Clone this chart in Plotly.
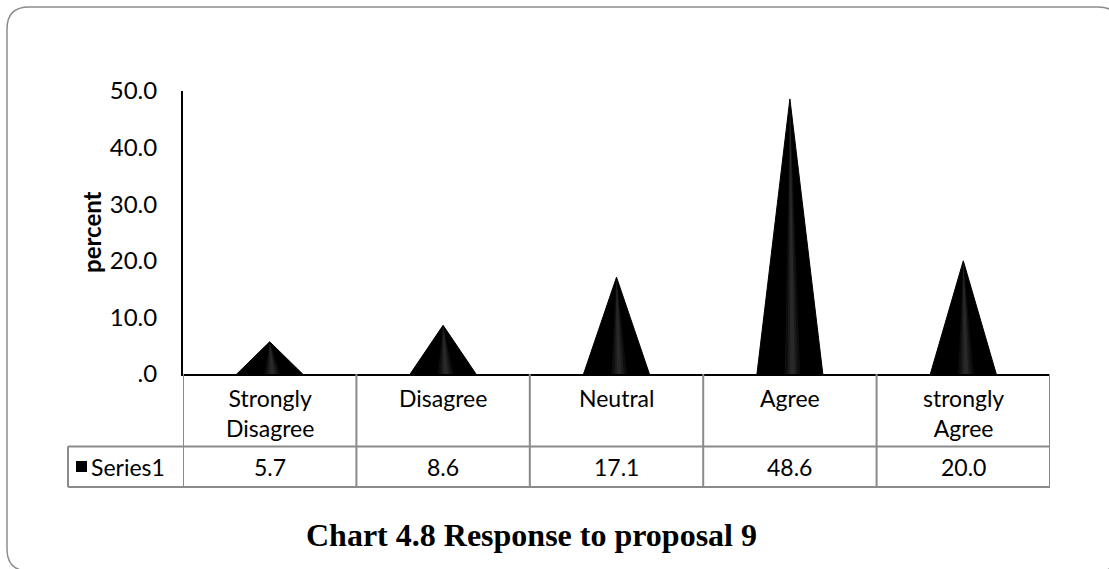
import plotly.graph_objects as go

categories = ["Strongly<br>Disagree", "Disagree", "Neutral", "Agree", "strongly<br>Agree"]
values = [5.7, 8.6, 17.1, 48.6, 20.0]
value_labels = ["5.7", "8.6", "17.1", "48.6", "20.0"]
series_name = "Series1"
y_tickvals = [0, 10, 20, 30, 40, 50]
y_ticktext = [".0", "10.0", "20.0", "30.0", "40.0", "50.0"]
title_text = "Chart 4.8 Response to proposal 9"
y_title = "percent"

W, H = 1109, 569
def px(x): return x / W
def py(y): return 1 - y / H

FONT = "Lato"
GRID = "#8a8a8a"
HW = 0.19  # cone half width in category units

fig = go.Figure()
for i, v in enumerate(values):
    fig.add_trace(go.Scatter(x=[i - HW, i, i + HW, i - HW], y=[0, v, 0, 0], fill="toself",
                             fillcolor="#000000", line=dict(color="#000000", width=1),
                             mode="lines", hoverinfo="skip", showlegend=False))
    # soft highlight stripes for a shaded-cone look
    for half, alpha in ((0.045, 0.12), (0.028, 0.14), (0.014, 0.16)):
        c = i + 0.015
        fig.add_trace(go.Scatter(x=[c - half, i, c + half, c - half], y=[0, v, 0, 0], fill="toself",
                                 fillcolor=f"rgba(110,110,110,{alpha})", line=dict(width=0),
                                 mode="lines", hoverinfo="skip", showlegend=False))

shapes = []
# rounded border
L, T, R, B, r = 7, 7, 1120, 571, 22
pts = [("M", L + r, T), ("L", R - r, T), ("Q", R, T, R, T + r), ("L", R, B - r),
       ("Q", R, B, R - r, B), ("L", L + r, B), ("Q", L, B, L, B - r), ("L", L, T + r),
       ("Q", L, T, L + r, T)]
path = ""
for p in pts:
    cmd = p[0]
    coords = p[1:]
    segs = []
    for k in range(0, len(coords), 2):
        segs.append(f"{px(coords[k]):.5f},{py(coords[k+1]):.5f}")
    path += cmd + " " + " ".join(segs) + " "
path += "Z"
shapes.append(dict(type="path", path=path, xref="paper", yref="paper",
                   line=dict(color="#8c8c8c", width=1.5), layer="below"))

# table grid
y_axis_px, y_mid, y_bot, x_left = 374, 446.5, 487, 68
for i in range(len(categories) + 1):
    shapes.append(dict(type="line", xref="x", yref="paper", x0=i - 0.5, x1=i - 0.5,
                       y0=py(y_axis_px), y1=py(y_bot), line=dict(color=GRID, width=2)))
for yy in (y_mid, y_bot):
    shapes.append(dict(type="line", xref="paper", yref="paper", x0=px(x_left), x1=px(1050),
                       y0=py(yy), y1=py(yy), line=dict(color=GRID, width=2)))
shapes.append(dict(type="line", xref="paper", yref="paper", x0=px(x_left), x1=px(x_left),
                   y0=py(y_mid), y1=py(y_bot), line=dict(color=GRID, width=2)))
# legend key
shapes.append(dict(type="rect", xref="paper", yref="paper", x0=px(76), x1=px(87),
                   y0=py(472), y1=py(461), fillcolor="#000000", line=dict(width=0)))

annotations = []
for i, c in enumerate(categories):
    annotations.append(dict(x=i, y=py(382), xref="x", yref="paper", text=c, showarrow=False,
                            xanchor="center", yanchor="top", align="center",
                            font=dict(family=FONT, size=23, color="#000000")))
    annotations.append(dict(x=i, y=py(467), xref="x", yref="paper", text=value_labels[i],
                            showarrow=False, xanchor="center", yanchor="middle",
                            font=dict(family=FONT, size=23, color="#000000")))
annotations.append(dict(x=px(89), y=py(467), xref="paper", yref="paper", text=series_name,
                        showarrow=False, xanchor="left", yanchor="middle",
                        font=dict(family=FONT, size=23, color="#000000")))
annotations.append(dict(x=px(92), y=py(232), xref="paper", yref="paper", text=f"<b>{y_title}</b>",
                        showarrow=False, textangle=-90, xanchor="center", yanchor="middle",
                        font=dict(family=FONT, size=24, color="#000000")))
annotations.append(dict(x=px(531), y=py(535), xref="paper", yref="paper", text=f"<b>{title_text}</b>",
                        showarrow=False, xanchor="center", yanchor="middle",
                        font=dict(family="Liberation Serif", size=32, color="#000000")))

fig.update_layout(
    width=W, height=H, autosize=False, margin=dict(l=0, r=0, t=0, b=0, pad=0),
    paper_bgcolor="#ffffff", plot_bgcolor="#ffffff",
    showlegend=False, shapes=shapes, annotations=annotations,
    xaxis=dict(domain=[px(183), px(1050)], range=[-0.5, 4.5], showgrid=False, zeroline=False,
               showticklabels=False, ticks="", showline=True, linecolor="#000000", linewidth=2,
               fixedrange=True, automargin=False),
    yaxis=dict(domain=[py(374), py(91)], range=[0, 50], showgrid=False, zeroline=False,
               tickvals=y_tickvals, ticktext=y_ticktext, ticks="", ticklabelstandoff=19,
               tickfont=dict(family=FONT, size=24, color="#000000"),
               showline=True, linecolor="#000000", linewidth=2, fixedrange=True, automargin=False),
)

fig.write_html("out.html")
